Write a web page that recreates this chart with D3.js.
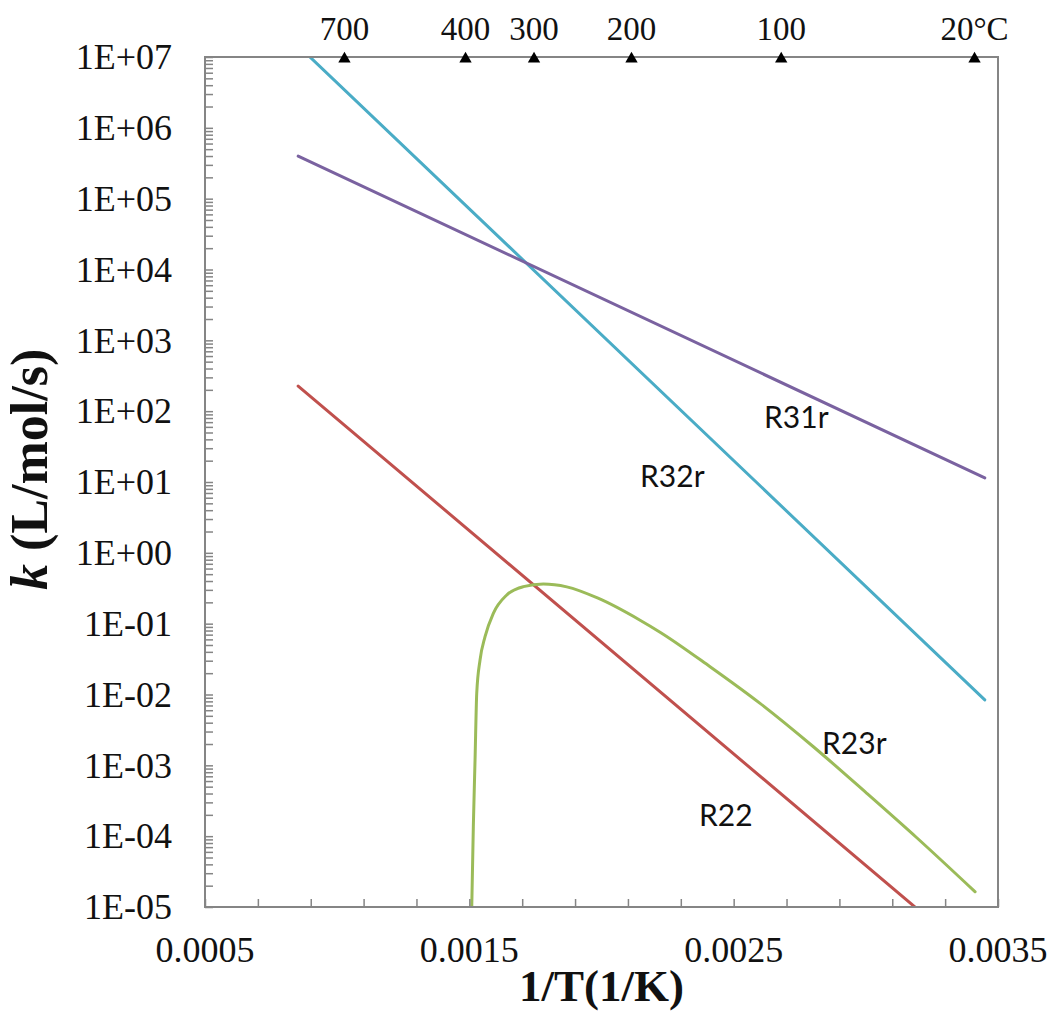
<!DOCTYPE html>
<html>
<head>
<meta charset="utf-8">
<script src="https://cdn.jsdelivr.net/npm/d3@7/dist/d3.min.js"></script>
<style>
  html, body { margin: 0; padding: 0; background: #ffffff; }
  svg { display: block; }
</style>
</head>
<body>
<svg id="chart" width="1052" height="1015"></svg>
<script>
// ---- data -------------------------------------------------------------
// Rate constants k (L/mol/s) against reciprocal temperature 1/T (1/K)
const r31rInvT = [0.0008525, 0.00345];
const r31rK    = [4.0e5, 11.4];

const r32rInvT = [0.0008525, 0.00345];
const r32rK    = [1.44e7, 8.4e-3];

const r22InvT  = [0.0008525, 0.00345];
const r22K     = [226, 1.47e-6];

const r23rInvT = [0.001508, 0.0015151, 0.0015216, 0.001528, 0.0015405, 0.0015594,
                  0.0015908, 0.0016415, 0.0017043, 0.00178, 0.0018685, 0.0019869,
                  0.0021459, 0.0022215, 0.0024107, 0.0025999, 0.0028016, 0.0030036,
                  0.0031928, 0.0034134];
const r23rK    = [6e-6, 1.36e-4, 1.19e-3, 1.04e-2, 3.07e-2, 6.55e-2,
                  0.140, 0.254, 0.333, 0.363, 0.331, 0.229,
                  0.112, 0.0759, 0.0247, 0.0075, 0.00183, 4.03e-4,
                  9.5e-5, 1.64e-5];

const seriesNames  = ["R31r", "R32r", "R23r", "R22"];
// label anchors (1/T, k) for the in-plot series names
const labelInvT = [0.002615, 0.0021459, 0.0028345, 0.002369];
const labelK    = [57.8, 8.5, 1.45e-3, 1.39e-4];

// temperature markers along the top edge (°C)
const topTempsC  = [700, 400, 300, 200, 100, 20];
const topLabels  = ["700", "400", "300", "200", "100", "20°C"];

// axis ticks
const xTickValues = [0.0005, 0.0015, 0.0025, 0.0035];
const xTickLabels = ["0.0005", "0.0015", "0.0025", "0.0035"];
const yDecades    = [1e7, 1e6, 1e5, 1e4, 1e3, 1e2, 1e1, 1e0, 1e-1, 1e-2, 1e-3, 1e-4, 1e-5];
const yTickLabels = ["1E+07", "1E+06", "1E+05", "1E+04", "1E+03", "1E+02", "1E+01",
                     "1E+00", "1E-01", "1E-02", "1E-03", "1E-04", "1E-05"];

// ---- layout -----------------------------------------------------------
const plot = { left: 205, right: 998, top: 57, bottom: 907 };
const colors = { R31r: "#7a62a0", R32r: "#4aacc6", R23r: "#9bbb59", R22: "#c0504d" };
const axisColor = "#858585";
const serif = "'Liberation Serif', 'Times New Roman', serif";

const svg = d3.select("#chart");
svg.append("rect").attr("width", 1052).attr("height", 1015).attr("fill", "#fff");

const x = d3.scaleLinear().domain([0.0005, 0.0035]).range([plot.left, plot.right]);
const y = d3.scaleLog().domain([1e-5, 1e7]).range([plot.bottom, plot.top]);

svg.append("clipPath").attr("id", "plot-clip")
  .append("rect")
  .attr("x", plot.left).attr("y", plot.top)
  .attr("width", plot.right - plot.left).attr("height", plot.bottom - plot.top);

// ---- series -----------------------------------------------------------
const seriesData = {
  R31r: d3.zip(r31rInvT, r31rK),
  R32r: d3.zip(r32rInvT, r32rK),
  R23r: d3.zip(r23rInvT, r23rK),
  R22:  d3.zip(r22InvT, r22K)
};

const line = d3.line()
  .x(d => x(d[0]))
  .y(d => y(d[1]))
  .curve(d3.curveMonotoneX);

const lines = svg.append("g").attr("clip-path", "url(#plot-clip)");
["R22", "R23r", "R32r", "R31r"].forEach(name => {
  lines.append("path")
    .datum(seriesData[name])
    .attr("fill", "none")
    .attr("stroke", colors[name])
    .attr("stroke-width", 3)
    .attr("stroke-linejoin", "round")
    .attr("stroke-linecap", "round")
    .attr("d", line);
});

// ---- frame and ticks --------------------------------------------------
const minorX = d3.range(0, 16).map(i => 0.0005 + i * 0.0002);
const yMinor = [];
for (let e = -5; e < 7; e++) {
  for (let m = 1; m <= 9; m++) yMinor.push(m * Math.pow(10, e));
}
yMinor.push(1e7);

const yAxis = d3.axisRight(y).tickValues(yMinor).tickSize(8).tickFormat("");
const gy = svg.append("g").attr("transform", `translate(${plot.left},0)`).call(yAxis);
gy.select(".domain").remove();
gy.selectAll(".tick line").attr("stroke", axisColor).attr("stroke-width", 1.5);

const xAxis = d3.axisTop(x).tickValues(minorX).tickSize(8).tickFormat("");
const gx = svg.append("g").attr("transform", `translate(0,${plot.bottom})`).call(xAxis);
gx.select(".domain").remove();
gx.selectAll(".tick line").attr("stroke", axisColor).attr("stroke-width", 1.5);

svg.append("rect")
  .attr("x", plot.left).attr("y", plot.top)
  .attr("width", plot.right - plot.left).attr("height", plot.bottom - plot.top)
  .attr("fill", "none").attr("stroke", axisColor).attr("stroke-width", 2);

// ---- tick labels ------------------------------------------------------
svg.append("g").selectAll("text")
  .data(yDecades)
  .join("text")
  .attr("x", 172)
  .attr("y", d => y(d))
  .attr("dy", "0.34em")
  .attr("text-anchor", "end")
  .attr("font-family", serif)
  .attr("font-size", 36)
  .attr("fill", "#111")
  .text((d, i) => yTickLabels[i]);

svg.append("g").selectAll("text")
  .data(xTickValues)
  .join("text")
  .attr("x", d => x(d))
  .attr("y", 962)
  .attr("text-anchor", "middle")
  .attr("font-family", serif)
  .attr("font-size", 36)
  .attr("fill", "#111")
  .text((d, i) => xTickLabels[i]);

// ---- temperature markers on the top edge ------------------------------
const tri = d3.symbol().type(d3.symbolTriangle).size(66);
const topG = svg.append("g");
topG.selectAll("path")
  .data(topTempsC)
  .join("path")
  .attr("d", tri)
  .attr("transform", d => `translate(${x(1 / (d + 273.15))},${plot.top + 2})`)
  .attr("fill", "#000");
topG.selectAll("text")
  .data(topTempsC)
  .join("text")
  .attr("x", d => x(1 / (d + 273.15)))
  .attr("y", 40)
  .attr("text-anchor", "middle")
  .attr("font-family", serif)
  .attr("font-size", 33)
  .attr("fill", "#111")
  .text((d, i) => topLabels[i]);

// ---- series names -----------------------------------------------------
svg.append("g").selectAll("text")
  .data(seriesNames)
  .join("text")
  .attr("x", (d, i) => x(labelInvT[i]))
  .attr("y", (d, i) => y(labelK[i]))
  .attr("font-family", "Lato, 'Open Sans', sans-serif")
  .attr("font-size", 30)
  .attr("fill", "#111")
  .text(d => d);

// ---- axis titles ------------------------------------------------------
svg.append("text")
  .attr("x", (plot.left + plot.right) / 2)
  .attr("y", 1001)
  .attr("text-anchor", "middle")
  .attr("font-family", serif)
  .attr("font-weight", "bold")
  .attr("font-size", 45)
  .attr("fill", "#111")
  .text("1/T(1/K)");

const yTitle = svg.append("text")
  .attr("transform", "translate(47,590) rotate(-90)")
  .attr("text-anchor", "start")
  .attr("font-family", serif)
  .attr("font-weight", "bold")
  .attr("font-size", 52)
  .attr("fill", "#111");
yTitle.append("tspan").attr("font-style", "italic").text("k");
yTitle.append("tspan").text(" (L/mol/s)");
</script>
</body>
</html>
